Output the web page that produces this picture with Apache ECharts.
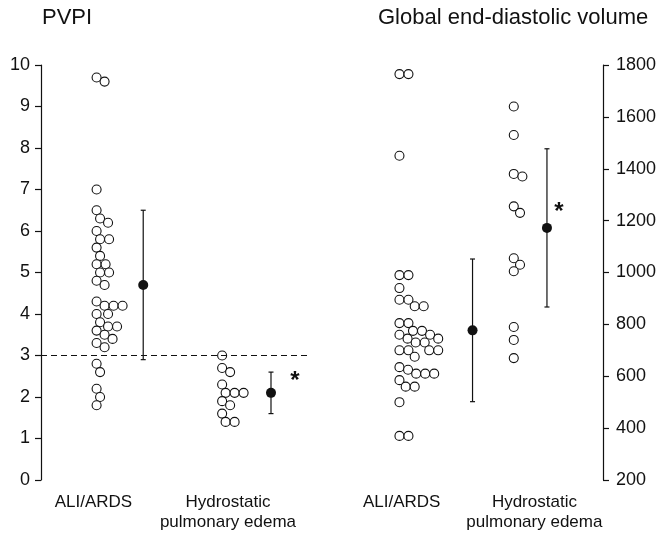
<!DOCTYPE html>
<html>
<head>
<meta charset="utf-8">
<script src="https://cdn.jsdelivr.net/npm/echarts@6/dist/echarts.min.js"></script>
<style>
    html, body { margin: 0; padding: 0; background: #fff; }
    #main { width: 661px; height: 536px; }
</style>
</head>
<body>
<div id="main"></div>
<script>
// groups shown under both panels
var groups = ['ALI/ARDS', 'Hydrostatic\npulmonary edema'];

// PVPI, one value per patient
var pvpiAli = [9.7, 9.6, 7.0, 6.5, 6.3, 6.2, 6.0, 5.8, 5.8, 5.6, 5.4, 5.2, 5.2, 5.0, 5.0, 4.8, 4.7, 4.3,
    4.2, 4.2, 4.2, 4.0, 4.0, 3.8, 3.7, 3.7, 3.6, 3.5, 3.4, 3.3, 3.2, 2.8, 2.6, 2.2, 2.0, 1.8];
var pvpiHydro = [3.0, 2.7, 2.6, 2.3, 2.1, 2.1, 2.1, 1.9, 1.8, 1.6, 1.4, 1.4];
var pvpiMean = [4.7, 2.1];
var pvpiSd = [1.8, 0.5];
var pvpiCutoff = 3;

// global end-diastolic volume, one value per patient
var gedvAli = [1765, 1765, 1450, 990, 990, 940, 895, 895, 870, 870, 805, 805, 775, 775, 760, 760, 745, 745,
    730, 730, 700, 700, 700, 700, 675, 635, 625, 610, 610, 610, 585, 560, 560, 500, 370, 370];
var gedvHydro = [1640, 1530, 1380, 1370, 1255, 1230, 1055, 1030, 1005, 790, 740, 670];
var gedvMean = [777, 1172];
var gedvSd = [275, 305];

// significance marks per group
var signif = ['', '*'];

// tick settings
var pvpiTicks = {min: 0, max: 10, interval: 1};
var gedvTicks = {min: 200, max: 1800, interval: 200};

var FONT = '"Liberation Sans", Arial, Helvetica, sans-serif';
var INK = '#111';

// where things sit along each panel's hidden x scale (0..6)
var panels = [
    {label: [1.17, 4.17], swarm: [1.24, 4.04], mean: [2.28, 5.13], star: [24, -11]},
    {label: [1.51, 4.47], swarm: [1.46, 4.01], mean: [3.09, 4.75], star: [12, -16]}
];

var chartDom = document.getElementById('main');
var myChart = echarts.init(chartDom);

function xAxisFor(idx) {
    return {
        gridIndex: idx, type: 'value', min: 0, max: 6,
        axisLine: {show: false}, axisTick: {show: false}, splitLine: {show: false},
        axisLabel: {
            customValues: panels[idx].label,
            formatter: function (v) { return groups[v < 3 ? 0 : 1]; },
            fontSize: 17, lineHeight: 20, margin: 12, color: INK, fontFamily: FONT
        }
    };
}

function yAxisFor(idx, ticks, pos, margin) {
    return {
        gridIndex: idx, type: 'value', position: pos,
        min: ticks.min, max: ticks.max, interval: ticks.interval,
        axisLine: {show: true, onZero: false, lineStyle: {color: INK, width: 1.2}},
        axisTick: {show: true, inside: false, length: 6, lineStyle: {color: INK, width: 1.2}},
        splitLine: {show: false},
        axisLabel: {
            fontSize: 18, margin: margin, color: INK, fontFamily: FONT,
            formatter: function (v) { return String(v); }
        }
    };
}

function meanBars(panelIdx, means, sds) {
    var p = panels[panelIdx];
    var data = means.map(function (m, i) {
        return [p.mean[i], m, m - sds[i], m + sds[i]];
    });
    return {
        type: 'custom',
        xAxisIndex: panelIdx, yAxisIndex: panelIdx,
        silent: true, z: 5,
        encode: {x: 0, y: [1, 2, 3]},
        data: data,
        renderItem: function (params, api) {
            var pm = api.coord([api.value(0), api.value(1)]);
            var lo = api.coord([api.value(0), api.value(2)]);
            var hi = api.coord([api.value(0), api.value(3)]);
            var cap = 2.5;
            var ls = {stroke: INK, lineWidth: 1.2};
            var kids = [
                {type: 'line', shape: {x1: pm[0], y1: hi[1], x2: pm[0], y2: lo[1]}, style: ls},
                {type: 'line', shape: {x1: pm[0] - cap, y1: hi[1], x2: pm[0] + cap, y2: hi[1]}, style: ls},
                {type: 'line', shape: {x1: pm[0] - cap, y1: lo[1], x2: pm[0] + cap, y2: lo[1]}, style: ls},
                {type: 'circle', shape: {cx: pm[0], cy: pm[1], r: 5}, style: {fill: INK}}
            ];
            var mark = signif[params.dataIndex];
            if (mark) {
                kids.push({
                    type: 'text', x: pm[0] + p.star[0], y: pm[1] + p.star[1],
                    style: {
                        text: mark, fontSize: 24, fontWeight: 'bold', fontFamily: FONT, fill: INK,
                        align: 'center', verticalAlign: 'middle'
                    }
                });
            }
            return {type: 'group', children: kids};
        }
    };
}

function dots(name, panelIdx) {
    return {
        name: name, type: 'scatter',
        xAxisIndex: panelIdx, yAxisIndex: panelIdx,
        symbol: 'circle', symbolSize: 9,
        itemStyle: {color: '#fff', borderColor: INK, borderWidth: 1.1, opacity: 1},
        silent: true, z: 3,
        data: []
    };
}

var pvpiAliSeries = dots('pvpiAli', 0);
pvpiAliSeries.markLine = {
    silent: true, symbol: 'none', label: {show: false},
    lineStyle: {color: INK, width: 1.2, type: [6, 4]},
    data: [{yAxis: pvpiCutoff}]
};

var titleStyle = {fontSize: 22, fontWeight: 'normal', color: INK, fontFamily: FONT};

var option = {
    animation: false,
    backgroundColor: '#fff',
    title: [
        {text: 'PVPI', left: 42, top: 7, padding: 0, textStyle: titleStyle},
        {text: 'Global end-diastolic volume', left: 378, top: 7, padding: 0, textStyle: titleStyle}
    ],
    grid: [
        {left: 41, top: 65, width: 269, height: 415},
        {left: 334, top: 65, width: 269, height: 415}
    ],
    xAxis: [xAxisFor(0), xAxisFor(1)],
    yAxis: [yAxisFor(0, pvpiTicks, 'left', 11), yAxisFor(1, gedvTicks, 'right', 13)],
    series: [
        pvpiAliSeries,
        dots('pvpiHydro', 0),
        dots('gedvAli', 1),
        dots('gedvHydro', 1),
        meanBars(0, pvpiMean, pvpiSd),
        meanBars(1, gedvMean, gedvSd)
    ]
};
myChart.setOption(option);

// one-sided beeswarm: push each dot right until it no longer overlaps
function swarm(values, panelIdx, base) {
    var d = 9;
    var x0 = myChart.convertToPixel({xAxisIndex: panelIdx}, base);
    var unit = myChart.convertToPixel({xAxisIndex: panelIdx}, base + 1) - x0;
    var order = values.map(function (v, i) { return i; })
        .sort(function (a, b) { return values[b] - values[a]; });
    var placed = [];
    var out = [];
    order.forEach(function (i) {
        var y = myChart.convertToPixel({yAxisIndex: panelIdx}, values[i]);
        var cands = [0];
        placed.forEach(function (p) {
            var dy = Math.abs(p.y - y);
            if (dy < d) {
                var dx = Math.sqrt(d * d - dy * dy);
                cands.push(p.x + dx, p.x - dx);
            }
        });
        cands = cands.filter(function (c) { return c >= 0; }).sort(function (a, b) { return a - b; });
        var x = cands.find(function (c) {
            return placed.every(function (p) {
                return (p.x - c) * (p.x - c) + (p.y - y) * (p.y - y) >= d * d - 0.01;
            });
        });
        if (x === undefined) x = cands[cands.length - 1] + d;
        placed.push({x: x, y: y});
        out.push([base + x / unit, values[i]]);
    });
    return out;
}

myChart.setOption({
    series: [
        {name: 'pvpiAli', data: swarm(pvpiAli, 0, panels[0].swarm[0])},
        {name: 'pvpiHydro', data: swarm(pvpiHydro, 0, panels[0].swarm[1])},
        {name: 'gedvAli', data: swarm(gedvAli, 1, panels[1].swarm[0])},
        {name: 'gedvHydro', data: swarm(gedvHydro, 1, panels[1].swarm[1])}
    ]
});
</script>
</body>
</html>
